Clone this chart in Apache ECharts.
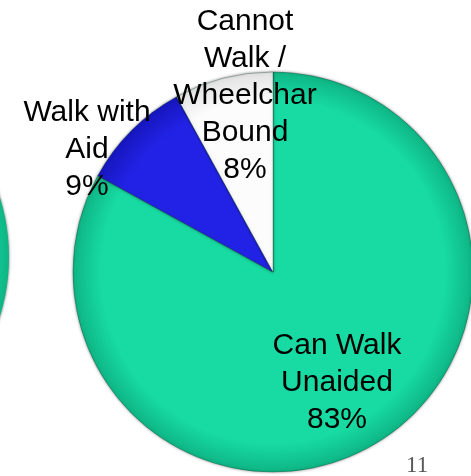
<!DOCTYPE html>
<html>
<head>
<meta charset="utf-8">
<script src="https://cdn.jsdelivr.net/npm/echarts@6/dist/echarts.min.js"></script>
<style>
  html, body { margin: 0; padding: 0; background: #fff; }
  #chart { width: 471px; height: 476px; }
</style>
</head>
<body>
<div id="chart"></div>
<script>
  // mobility split, clockwise from 12 o'clock
  var categories = ['Can Walk\nUnaided', 'Walk with\nAid', 'Cannot\nWalk /\nWheelchar\nBound'];
  var shares = [83, 9, 8];
  var pageNumber = '11';

  // where each label block sits (centre x, centre y)
  var labelSpots = [[337, 383], [87, 150], [245, 96]];

  // shading relative to the whole disc, so small slices get it right too
  function radial (cx, cy, inner, outer) {
    return {
      type: 'radial', x: cx, y: cy, r: 200, global: true,
      colorStops: [{offset: 0, color: inner}, {offset: 0.86, color: inner}, {offset: 1, color: outer}]
    };
  }

  var sliceColors = [
    radial(273, 272, '#17DBA2', '#0EB585'),
    radial(273, 272, '#2222E6', '#1616BE'),
    radial(273, 272, '#FCFCFC', '#E2E2E2')
  ];

  var pieData = categories.map(function (name, i) {
    return {
      name: name,
      value: shares[i],
      itemStyle: {color: sliceColors[i]}
    };
  });

  var myChart = echarts.init(document.getElementById('chart'));
  myChart.setOption({
    animation: false,
    series: [
      {
        // the neighbouring pie, mostly off the slide
        type: 'pie',
        center: [-191, 257],
        radius: 200,
        silent: true,
        label: {show: false},
        labelLine: {show: false},
        itemStyle: {
          color: radial(-191, 257, '#17DBA2', '#0EB585'),
          shadowBlur: 3,
          shadowColor: 'rgba(0,0,0,0.6)'
        },
        data: [{name: 'other', value: 1}]
      },
      {
        type: 'pie',
        center: [273, 272],
        radius: 200,
        startAngle: 90,
        clockwise: true,
        itemStyle: {
          borderColor: 'rgba(0,60,40,0.3)',
          borderWidth: 1,
          shadowBlur: 3,
          shadowColor: 'rgba(0,0,0,0.45)'
        },
        label: {
          show: true,
          position: 'inside',
          formatter: '{b}\n{d}%',
          color: '#000',
          fontFamily: 'Liberation Sans, Arial, sans-serif',
          fontSize: 30,
          lineHeight: 37,
          align: 'center',
          verticalAlign: 'middle'
        },
        labelLayout: function (params) {
          var spot = labelSpots[params.dataIndex];
          return {x: spot[0], y: spot[1], align: 'center', verticalAlign: 'middle'};
        },
        data: pieData
      }
    ],
    graphic: [{
      type: 'text',
      left: 406,
      top: 454,
      style: {
        text: pageNumber,
        fill: '#595959',
        font: '23px "Liberation Serif", "Times New Roman", serif'
      }
    }]
  });
</script>
</body>
</html>
